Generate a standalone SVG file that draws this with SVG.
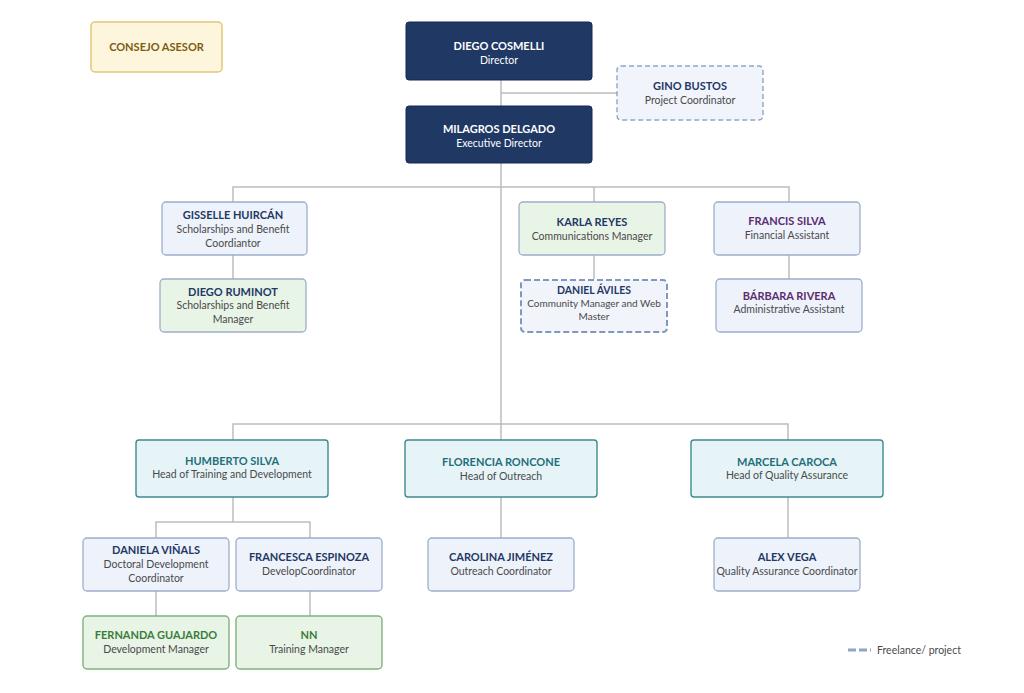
<svg xmlns="http://www.w3.org/2000/svg" width="1024" height="693" viewBox="0 0 1024 693">
<style>
text{font-family:Lato,"Open Sans","Liberation Sans",sans-serif;text-anchor:middle;dominant-baseline:central}
.n{font-size:11px;font-weight:bold;fill:#1F3864}
.s{font-size:10.5px;fill:#4A4A4A}
.w{fill:#FFFFFF}
.pu{fill:#5B2C6F}
.te{fill:#1F6F78}
.gr{fill:#3A7D3A}
.navy{fill:#1F3864;stroke:#17294B;stroke-width:1}
.blue{fill:#EEF2FB;stroke:#9CAECB;stroke-width:1.3}
.green{fill:#E8F4E6;stroke:#9CAECB;stroke-width:1.3}
.dash{fill:#F1F4FB;stroke:#8EA6C6;stroke-width:1.4;stroke-dasharray:5 3}
.dash2{fill:#F1F4FB;stroke:#7F98BC;stroke-width:2;stroke-dasharray:6 3}
.teal{fill:#E6F4F8;stroke:#3F8A8F;stroke-width:1.4}
.gbox{fill:#E8F4E6;stroke:#7FB27F;stroke-width:1.4}
.gold{fill:#FEF6DC;stroke:#E2C77A;stroke-width:1.5}
.c{fill:none;stroke:#BDBDBD;stroke-width:1.5}
</style>
<rect width="1024" height="693" fill="#FFFFFF"/>
<g id="connectors">
<path class="c" d="M501 80V424M501 93H617"/>
<path class="c" d="M233 202V187H789V202M594 187V202"/>
<path class="c" d="M233 255V279M594 255V279M789 255V279"/>
<path class="c" d="M233 440V424H788V440M501 424V440"/>
<path class="c" d="M233 497V522M156 538V522H310V538"/>
<path class="c" d="M156 591V616M310 591V616M501 497V538M788 497V538"/>
</g>
<g id="consejo"><rect class="gold" x="91" y="22" width="131" height="50" rx="4"/><text x="156.5" y="46" class="n" style="fill:#7A5C12">CONSEJO ASESOR</text></g>
<g id="cosmelli"><rect class="navy" x="406" y="22" width="186" height="58" rx="3"/><text x="499" y="45" class="n w">DIEGO COSMELLI</text><text x="499" y="60" class="s w">Director</text></g>
<g id="bustos"><rect class="dash" x="617" y="66" width="146" height="54" rx="4"/><text x="690" y="85" class="n">GINO BUSTOS</text><text x="690" y="100" class="s">Project Coordinator</text></g>
<g id="delgado"><rect class="navy" x="406" y="106" width="186" height="57" rx="3"/><text x="499" y="128" class="n w">MILAGROS DELGADO</text><text x="499" y="143" class="s w">Executive Director</text></g>
<g id="huircan"><rect class="blue" x="162" y="202" width="145" height="53" rx="4"/><text x="233" y="214" class="n">GISSELLE HUIRCÁN</text><text x="233" y="229" class="s">Scholarships and Benefit</text><text x="233" y="243" class="s">Coordiantor</text></g>
<g id="ruminot"><rect class="green" x="160" y="279" width="146" height="53" rx="4"/><text x="233" y="291" class="n">DIEGO RUMINOT</text><text x="233" y="305" class="s">Scholarships and Benefit</text><text x="233" y="319" class="s">Manager</text></g>
<g id="reyes"><rect class="green" x="519" y="202" width="146" height="53" rx="4"/><text x="592" y="221" class="n">KARLA REYES</text><text x="592" y="236" class="s">Communications Manager</text></g>
<g id="aviles"><rect class="dash2" x="521" y="280" width="146" height="52" rx="4"/><text x="594" y="290" class="n" style="font-size:10.5px">DANIEL ÁVILES</text><text x="594" y="303" class="s" style="font-size:10px">Community Manager and Web</text><text x="594" y="316" class="s" style="font-size:10px">Master</text></g>
<g id="fsilva"><rect class="blue" x="714" y="202" width="146" height="53" rx="4"/><text x="787" y="220" class="n pu">FRANCIS SILVA</text><text x="787" y="235" class="s">Financial Assistant</text></g>
<g id="rivera"><rect class="blue" x="716" y="279" width="146" height="53" rx="4"/><text x="789" y="295" class="n pu">BÁRBARA RIVERA</text><text x="789" y="309" class="s">Administrative Assistant</text></g>
<g id="hsilva"><rect class="teal" x="136" y="440" width="192" height="57" rx="3"/><text x="232" y="460" class="n te">HUMBERTO SILVA</text><text x="232" y="474" class="s">Head of Training and Development</text></g>
<g id="roncone"><rect class="teal" x="405" y="440" width="192" height="57" rx="3"/><text x="501" y="461" class="n te">FLORENCIA RONCONE</text><text x="501" y="476" class="s">Head of Outreach</text></g>
<g id="caroca"><rect class="teal" x="691" y="440" width="192" height="57" rx="3"/><text x="787" y="461" class="n te">MARCELA CAROCA</text><text x="787" y="475" class="s">Head of Quality Assurance</text></g>
<g id="vinals"><rect class="blue" x="83" y="538" width="146" height="53" rx="4"/><text x="156" y="549" class="n">DANIELA VIÑALS</text><text x="156" y="564" class="s">Doctoral Development</text><text x="156" y="578" class="s">Coordinator</text></g>
<g id="espinoza"><rect class="blue" x="236" y="538" width="146" height="53" rx="4"/><text x="309" y="556" class="n">FRANCESCA ESPINOZA</text><text x="309" y="571" class="s">DevelopCoordinator</text></g>
<g id="jimenez"><rect class="blue" x="428" y="538" width="146" height="53" rx="4"/><text x="501" y="556" class="n">CAROLINA JIMÉNEZ</text><text x="501" y="571" class="s">Outreach Coordinator</text></g>
<g id="vega"><rect class="blue" x="714" y="538" width="146" height="53" rx="4"/><text x="787" y="556" class="n">ALEX VEGA</text><text x="787" y="571" class="s">Quality Assurance Coordinator</text></g>
<g id="guajardo"><rect class="gbox" x="83" y="616" width="146" height="53" rx="4"/><text x="156" y="634" class="n gr">FERNANDA GUAJARDO</text><text x="156" y="649" class="s">Development Manager</text></g>
<g id="nn"><rect class="gbox" x="236" y="616" width="146" height="53" rx="4"/><text x="309" y="634" class="n gr">NN</text><text x="309" y="649" class="s">Training Manager</text></g>
<g id="legend"><line x1="848" y1="650" x2="871" y2="650" stroke="#8EA6C6" stroke-width="3" stroke-dasharray="8 3"/><text x="877" y="650" class="s" style="text-anchor:start">Freelance/ project</text></g>
</svg>
